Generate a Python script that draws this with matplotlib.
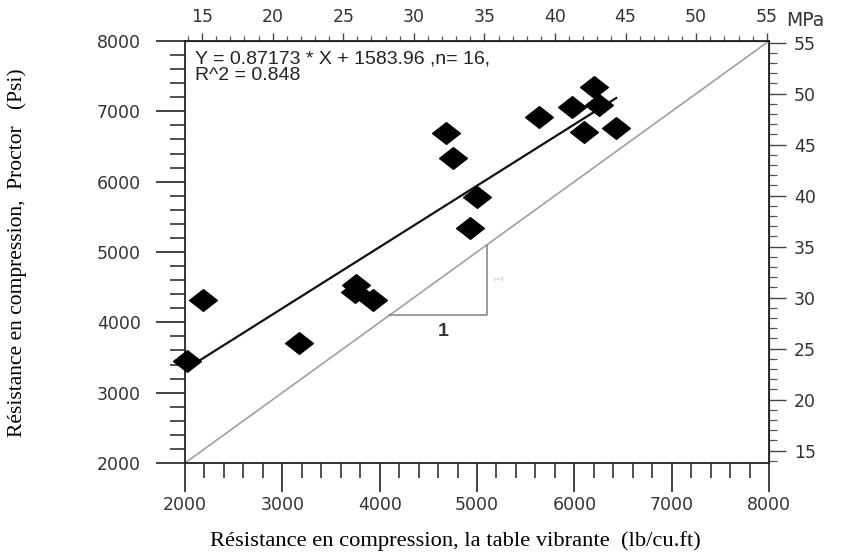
import numpy as np
import matplotlib.pyplot as plt
from matplotlib.path import Path
from matplotlib.ticker import MultipleLocator

# compressive strength, vibrating table (x) vs Proctor (y), psi
x_table = [2020, 2185, 3170, 3760, 3745, 3930, 4680, 4750, 4995, 4930,
           5640, 5980, 6205, 6255, 6100, 6430]
y_proctor = [3450, 4320, 3710, 4530, 4430, 4320, 6690, 6340, 5780, 5340,
             6920, 7065, 7350, 7090, 6710, 6765]

slope = 0.87173
intercept = 1583.96
n_pts = 16
r2 = 0.848

PSI_PER_MPA = 145.038

psi_ticks = [2000, 3000, 4000, 5000, 6000, 7000, 8000]
mpa_ticks = [15, 20, 25, 30, 35, 40, 45, 50, 55]

plt.rcParams['font.family'] = ['DejaVu Sans']

fig = plt.figure(figsize=(8.53, 5.58), dpi=100)
ax = fig.add_axes([0.2169, 0.1703, 0.6846, 0.7562])

# 1:1 reference line
ax.plot([2000, 8000], [2000, 8000], color='#a0a0a0', lw=1.2, zorder=1)

# slope triangle
ax.plot([4100, 5100, 5100], [4100, 4100, 5100], color='#8a8a8a', lw=1.2, zorder=1)
ax.text(4650, 3870, '1', ha='center', va='center', fontsize=14,
        family='Liberation Sans', fontweight='bold', color='#333333')
ax.text(5230, 4650, '1', ha='center', va='center', fontsize=9, color='#d5d5d5',
        rotation=90)

# regression line
xr = np.array([min(x_table), max(x_table)])
ax.plot(xr, slope * xr + intercept, color='#111111', lw=1.6, zorder=2)

# squashed diamond markers
diamond = Path([(-1, 0), (0, 0.78), (1, 0), (0, -0.78), (-1, 0)],
               [Path.MOVETO, Path.LINETO, Path.LINETO, Path.LINETO, Path.CLOSEPOLY])
ax.plot(x_table, y_proctor, linestyle='none', marker=diamond, ms=20,
        color='black', zorder=3, clip_on=False)

ax.text(0.017, 0.978, f'Y = {slope} * X + {intercept} ,n= {n_pts},\nR^2 = {r2}',
        transform=ax.transAxes, ha='left', va='top', fontsize=14,
        family='Liberation Sans', color='#222222', linespacing=0.95)

ax.set_xlim(2000, 8000)
ax.set_ylim(2000, 8000)
ax.set_xticks(psi_ticks)
ax.set_yticks(psi_ticks)
ax.xaxis.set_minor_locator(MultipleLocator(200))
ax.yaxis.set_minor_locator(MultipleLocator(200))
ax.tick_params(which='major', direction='out', length=21, width=1.2,
               labelsize=12.5, labelcolor='#333333', color='#222222')
ax.tick_params(which='minor', direction='out', length=10.5, width=1.1,
               color='#222222')
ax.tick_params(axis='y', which='major', pad=11)
ax.tick_params(axis='x', which='major', pad=3)
for s in ax.spines.values():
    s.set_linewidth(1.3)
    s.set_color('#222222')

# MPa scales on top and right
to_mpa = lambda v: np.asarray(v) / PSI_PER_MPA
to_psi = lambda v: np.asarray(v) * PSI_PER_MPA

top = ax.secondary_xaxis('top', functions=(to_mpa, to_psi))
top.set_xticks(mpa_ticks)
top.xaxis.set_minor_locator(MultipleLocator(1))
top.tick_params(which='major', direction='out', length=6, width=1.0, pad=5,
                labelsize=12.5, labelcolor='#333333', color='#444444')
top.tick_params(which='minor', direction='out', length=3.5, width=0.9,
                color='#555555')

right = ax.secondary_yaxis('right', functions=(to_mpa, to_psi))
right.set_yticks(mpa_ticks)
right.yaxis.set_minor_locator(MultipleLocator(1))
right.tick_params(which='major', direction='out', length=12, width=1.0, pad=6,
                  labelsize=12.5, labelcolor='#333333', color='#444444')
right.tick_params(which='minor', direction='out', length=6, width=0.9,
                  color='#555555')

fig.text(0.922, 0.963, 'MPa', ha='left', va='center', fontsize=13.5, color='#333333')

# axis titles in a serif face
fig.text(0.5335, 0.03, 'Résistance en compression, la table vibrante  (lb/cu.ft)',
         family='Liberation Serif', fontsize=16.2, ha='center', va='center')
fig.text(0.02, 0.548, 'Résistance en compression,  Proctor   (Psi)',
         family='Liberation Serif', fontsize=15.5, ha='center', va='center',
         rotation=90)

fig.savefig('out.png', dpi=100)
